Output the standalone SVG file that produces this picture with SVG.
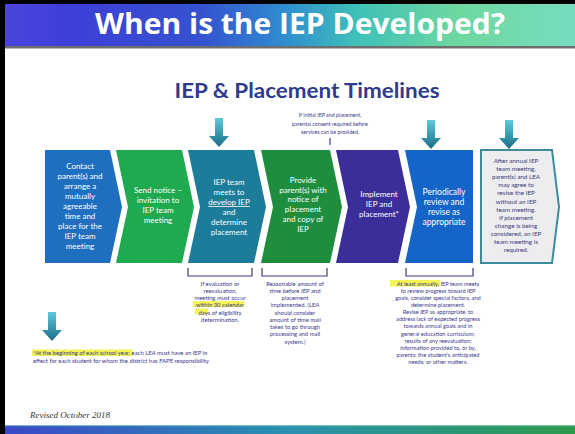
<svg xmlns="http://www.w3.org/2000/svg" width="575" height="434" viewBox="0 0 575 434">
<defs>
<linearGradient id="tg" x1="0" y1="0" x2="1" y2="0">
<stop offset="0" stop-color="#4B45DD"/>
<stop offset="0.12" stop-color="#3E3FD8"/>
<stop offset="0.35" stop-color="#3552CF"/>
<stop offset="0.5" stop-color="#2F8FD0"/>
<stop offset="0.62" stop-color="#3FC0B8"/>
<stop offset="0.8" stop-color="#6FD8A0"/>
<stop offset="1" stop-color="#78DCC0"/>
</linearGradient>
<linearGradient id="bg" x1="0" y1="0" x2="1" y2="0">
<stop offset="0" stop-color="#3A48C8"/>
<stop offset="0.5" stop-color="#2A92B0"/>
<stop offset="1" stop-color="#2E9A4C"/>
</linearGradient>
<linearGradient id="ag" x1="0" y1="0" x2="0" y2="1">
<stop offset="0" stop-color="#5CC9DC"/>
<stop offset="1" stop-color="#1A6E86"/>
</linearGradient>
<path id="arrow" d="M-4,0 H4 V18 H10 L0,29 L-10,18 H-4 Z" fill="url(#ag)"/>
</defs>
<style>
.ct{font-family:Lato,"Open Sans",sans-serif;font-size:8px;fill:#ffffff;text-anchor:middle;font-weight:400}
.gt{font-family:Lato,"Open Sans",sans-serif;font-size:6.3px;fill:#3A3A78;text-anchor:middle}
.nt{font-family:Lato,"Open Sans",sans-serif;font-size:5.9px;fill:#3A3A8A;text-anchor:middle}
.br{fill:none;stroke:#3A3A8A;stroke-width:1.2}
.hl{fill:#F2F23A;opacity:0.85}
</style>
<rect width="575" height="434" fill="#ffffff"/>
<g id="title">
<rect x="0" y="0" width="575" height="46" fill="url(#tg)"/>
<rect x="0" y="46" width="575" height="2.5" fill="#6E6E6E"/>
<text x="300" y="34" font-family="'Open Sans',Lato,sans-serif" font-weight="700" font-size="28" fill="#ffffff" text-anchor="middle" textLength="410" lengthAdjust="spacingAndGlyphs">When is the IEP Developed?</text>
</g>
<rect x="0" y="0" width="575" height="4" fill="#000"/>
<rect x="0" y="0" width="5" height="434" fill="#000"/>
<rect x="5" y="425" width="570" height="9" fill="url(#bg)"/>
<rect x="5" y="425" width="570" height="1.2" fill="#8FD8C0" opacity="0.7"/>

<text id="subtitle" x="307" y="98" font-family="Lato,'Open Sans',sans-serif" font-weight="700" font-size="21" fill="#2E3A8C" text-anchor="middle" textLength="265" lengthAdjust="spacingAndGlyphs">IEP &amp; Placement Timelines</text>

<g id="c1">
<path d="M45,150 L110,150 L122,207 L110,263 L45,263 Z" fill="#1F6FC0"/>
<text class="ct"><tspan x="80" y="169">Contact</tspan><tspan x="80" y="179">parent(s) and</tspan><tspan x="80" y="188.5">arrange a</tspan><tspan x="80" y="198.5">mutually</tspan><tspan x="80" y="208.5">agreeable</tspan><tspan x="80" y="218.5">time and</tspan><tspan x="80" y="228.5">place for the</tspan><tspan x="80" y="238.5">IEP team</tspan><tspan x="80" y="248.5">meeting</tspan></text>
</g>
<g id="c2">
<path d="M116,150 L182,150 L194,207 L182,263 L116,263 L128,207 Z" fill="#1FAA50"/>
<text class="ct"><tspan x="158" y="193">Send notice –</tspan><tspan x="158" y="203">invitation to</tspan><tspan x="158" y="213">IEP team</tspan><tspan x="158" y="223">meeting</tspan></text>
</g>
<g id="c3">
<path d="M188,150 L254,150 L266,207 L254,263 L188,263 L200,207 Z" fill="#1C7C9A"/>
<text class="ct"><tspan x="229" y="185">IEP team</tspan><tspan x="229" y="195">meets to</tspan><tspan x="229" y="205" text-decoration="underline">develop IEP</tspan><tspan x="229" y="215">and</tspan><tspan x="229" y="225">determine</tspan><tspan x="229" y="235">placement</tspan></text>
</g>
<g id="c4">
<path d="M261,150 L330,150 L342,207 L330,263 L261,263 L273,207 Z" fill="#1E8E3E"/>
<text class="ct"><tspan x="303" y="183">Provide</tspan><tspan x="303" y="192.7">parent(s) with</tspan><tspan x="303" y="202.4">notice of</tspan><tspan x="303" y="212.1">placement</tspan><tspan x="303" y="221.8">and copy of</tspan><tspan x="303" y="231.5">IEP</tspan></text>
</g>
<g id="c5">
<path d="M336,150 L398,150 L410,207 L398,263 L336,263 L348,207 Z" fill="#3B2E9A"/>
<text class="ct"><tspan x="379" y="197">Implement</tspan><tspan x="379" y="207">IEP and</tspan><tspan x="379" y="217">placement*</tspan></text>
</g>
<g id="c6">
<path d="M405,150 L473,150 L473,263 L405,263 L417,207 Z" fill="#1565C8"/>
<text class="ct" style="font-size:8.5px"><tspan x="444" y="195">Periodically</tspan><tspan x="444" y="205">review and</tspan><tspan x="444" y="215">revise as</tspan><tspan x="444" y="225">appropriate</tspan></text>
</g>
<g id="c7">
<path d="M481,150 L552,150 L559,207 L552,263 L481,263 Z" fill="#EDEDF0" stroke="#3C8C9C" stroke-width="2"/>
<text class="gt"><tspan x="516" y="163">After annual IEP</tspan><tspan x="516" y="171.1">team meeting,</tspan><tspan x="516" y="179.2">parent(s) and LEA</tspan><tspan x="516" y="187.3">may agree to</tspan><tspan x="516" y="195.4">revise the IEP</tspan><tspan x="516" y="203.5">without an IEP</tspan><tspan x="516" y="211.6">team meeting.</tspan><tspan x="516" y="219.7">If placement</tspan><tspan x="516" y="227.8">change is being</tspan><tspan x="516" y="235.9">considered, an IEP</tspan><tspan x="516" y="244">team meeting is</tspan><tspan x="516" y="252.1">required.</tspan></text>
</g>

<g id="connectors">
<use href="#arrow" x="219" y="118"/>
<use href="#arrow" x="431" y="120"/>
<use href="#arrow" x="509" y="120"/>
<use href="#arrow" x="52" y="312"/>
<line x1="330" y1="138" x2="330" y2="145" stroke="#3A3A8A" stroke-width="1.2"/>
<path class="br" d="M188,268 V276 H252 V268"/>
<path class="br" d="M262,268 V276 H327 V268"/>
<path class="br" d="M406,268 V276 H473 V268"/>
</g>

<g id="note-consent">
<text class="nt" style="font-size:5.3px"><tspan x="330" y="117">If initial IEP and placement,</tspan><tspan x="330" y="125.5">parental consent required before</tspan><tspan x="330" y="134">services can be provided.</tspan></text>
</g>

<g id="note-eval">
<rect class="hl" x="193" y="301" width="51" height="6"/>
<rect class="hl" x="195" y="308.5" width="13" height="6"/>
<text class="nt"><tspan x="220" y="285.5">If evaluation or</tspan><tspan x="220" y="292.8">reevaluation,</tspan><tspan x="220" y="300">meeting must occur</tspan><tspan x="220" y="307.2">within 30 calendar</tspan><tspan x="220" y="314.5">days of eligibility</tspan><tspan x="220" y="321.7">determination.</tspan></text>
</g>

<g id="note-time">
<text class="nt"><tspan x="295" y="285.5">Reasonable amount of</tspan><tspan x="295" y="292.8">time before IEP and</tspan><tspan x="295" y="300">placement</tspan><tspan x="295" y="307.2">implemented. (LEA</tspan><tspan x="295" y="314.5">should consider</tspan><tspan x="295" y="321.7">amount of time mail</tspan><tspan x="295" y="329">takes to go through</tspan><tspan x="295" y="336.2">processing and mail</tspan><tspan x="295" y="343.5">system.)</tspan></text>
</g>

<g id="note-annual">
<rect class="hl" x="390" y="280" width="50" height="6.5"/>
<text class="nt" style="font-size:5.7px"><tspan x="438" y="286">At least annually, IEP team meets</tspan><tspan x="438" y="293">to review progress toward IEP</tspan><tspan x="438" y="300">goals, consider special factors, and</tspan><tspan x="438" y="307">determine placement.</tspan><tspan x="438" y="314.2">Revise IEP as appropriate, to</tspan><tspan x="438" y="321.3">address lack of expected progress</tspan><tspan x="438" y="328.4">towards annual goals and in</tspan><tspan x="438" y="335.6">general education curriculum;</tspan><tspan x="438" y="342.7">results of any reevaluation;</tspan><tspan x="438" y="349.9">information provided to, or by,</tspan><tspan x="438" y="357">parents; the student’s anticipated</tspan><tspan x="438" y="364.2">needs; or other matters.</tspan></text>
</g>

<g id="footnote">
<rect class="hl" x="32" y="349.5" width="101" height="6.5"/>
<text class="nt" style="text-anchor:start"><tspan x="33" y="355">*At the beginning of each school year, each LEA must have an IEP in</tspan><tspan x="33" y="362.5">effect for each student for whom the district has FAPE responsibility.</tspan></text>
</g>

<text x="30" y="418" font-family="'Liberation Serif',serif" font-style="italic" font-size="9" fill="#333333">Revised October 2018</text>
</svg>
